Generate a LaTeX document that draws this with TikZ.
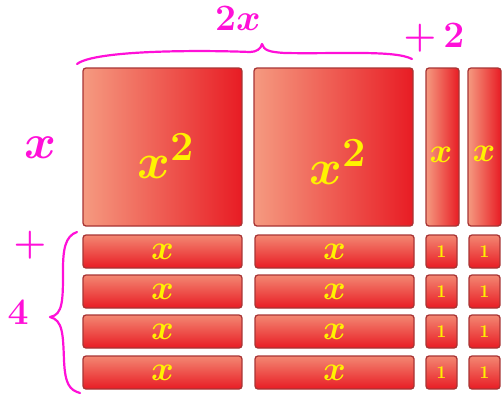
\documentclass[tikz,border=0pt]{standalone}
\usepackage{xcolor}
\definecolor{lite}{HTML}{F59A80}
\definecolor{deep}{HTML}{E81C24}
\definecolor{edgec}{HTML}{A83434}
\definecolor{mag}{HTML}{FF10D8}
\definecolor{yel}{HTML}{FFF200}
\tikzset{
  tile/.style={draw=edgec, line width=1.3pt, rounded corners=3pt, anchor=north west,
    inner sep=0pt, outer sep=0pt, text=yel},
  hshade/.style={left color=lite, right color=deep},
  vshade/.style={top color=lite!85!deep, bottom color=deep},
  bigsq/.style={tile, hshade, minimum width=159pt, minimum height=158pt},
  vtile/.style={tile, hshade, minimum width=33pt, minimum height=158pt},
  bar/.style={tile, vshade, minimum width=159pt, minimum height=33pt},
  unit/.style={tile, vshade, minimum width=31pt, minimum height=33pt},
  sqlab/.style={text=yel, font=\Huge\boldmath, scale=2},
  barlab/.style={text=yel, font=\LARGE\boldmath, scale=2},
  unitlab/.style={text=yel, font=\Large\bfseries, scale=1.25},
  hand/.style={text=mag, font=\Huge\boldmath, scale=1.5},
  brace/.style={draw=mag, line width=2.2pt, line cap=round, line join=round}
}
\begin{document}
\begin{tikzpicture}[x=1pt,y=-1pt]
\useasboundingbox (0,0) rectangle (502,397);
% big squares
\node[bigsq] (s1) at (83,68) {};
\node[bigsq] (s2) at (254,68) {};
\node[sqlab] (l1) at (166,156) {$x^{2}$};
\node[sqlab] (l2) at (338,162) {$x^{2}$};
% vertical x tiles
\node[vtile] (v1) at (426,68) {};
\node[vtile] (v2) at (468,68) {};
\node[barlab] (lv1) at (441,155) {$x$};
\node[barlab] (lv2) at (484,154) {$x$};
% bars and units
\foreach \i/\y in {1/235,2/275,3/315,4/356}{
  \node[bar] (a\i) at (83,\y) {};
  \node[bar] (b\i) at (255,\y) {};
  \node[unit] (c\i) at (426,\y) {};
  \node[unit] (d\i) at (469,\y) {};
  \node[barlab] at (a\i.center) {$x$};
  \node[barlab] at (b\i.center) {$x$};
  \node[unitlab] at (c\i.center) {1};
  \node[unitlab] at (d\i.center) {1};
}
% annotations
\node[hand] (t2x) at (238,18) {$2x$};
\node[hand] (tp2) at (434,38) {$+\,2$};
\node[hand, scale=1.3] (lx) at (40,148) {$x$};
\node[hand] (lp) at (30,245) {$+$};
\node[hand] (l4) at (18,312) {$4$};
% top brace
\draw[brace] (77,64) .. controls (95,50) and (200,50) .. (250,52)
  .. controls (256,52) and (261,49) .. (262,44)
  .. controls (264,50) and (268,52) .. (285,53)
  .. controls (340,54) and (395,50) .. (412,59);
% left brace
\draw[brace] (77,232) .. controls (65,236) and (63,250) .. (63,270)
  .. controls (63,300) and (63,315) .. (50,317)
  .. controls (63,320) and (63,335) .. (64,360)
  .. controls (65,385) and (70,390) .. (80,393);
\end{tikzpicture}
\end{document}
